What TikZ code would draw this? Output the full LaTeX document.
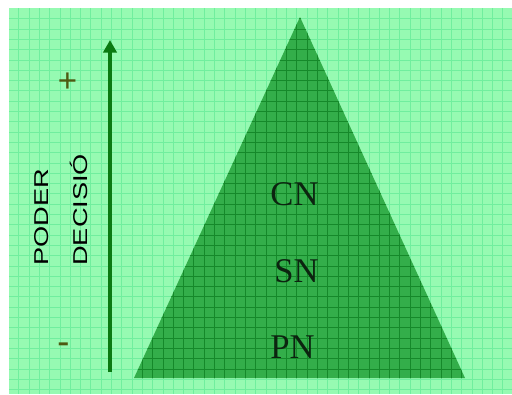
\documentclass[tikz,border=0pt]{standalone}
\usepackage{fontspec}
\setmainfont{Liberation Serif}
\newfontfamily\sansx[FakeStretch=1.36]{Liberation Sans}
\usetikzlibrary{arrows.meta}
\definecolor{bgx}{HTML}{96FAB2}
\definecolor{bglinex}{HTML}{70EE9E}
\definecolor{trix}{HTML}{33AE4A}
\definecolor{trilinex}{HTML}{15892A}
\definecolor{arrowx}{HTML}{0B7A12}
\definecolor{signx}{HTML}{4D5A12}
\definecolor{textx}{HTML}{0C2410}
\tikzset{
  lvl/.style={font=\fontsize{26}{30}\selectfont,textx,inner sep=0pt},
  sg/.style={font=\bfseries\fontsize{26}{30}\selectfont,signx,inner sep=0pt},
  ax/.style={-{Triangle[length=9.5pt,width=10pt]},line width=3pt,arrowx},
  vlab/.style={font=\sansx\fontsize{15}{17}\selectfont,rotate=90,anchor=base west,inner sep=0pt},
  gl/.style={bglinex,line width=1pt},
  tgl/.style={trilinex,line width=0.75pt}
}

\begin{document}
\begin{tikzpicture}[x=0.75pt,y=-0.75pt]
\useasboundingbox (0,0) rectangle (512,394);
% background with grid
\fill[bgx] (9,8) rectangle (512,394);
\foreach \k in {0,...,47}{\pgfmathsetmacro\gx{round(18.3+\k*10.3)+0.5}\draw[gl] (\gx,8) -- (\gx,394);}
\foreach \k in {0,...,36}{\pgfmathsetmacro\gy{round(18.3+\k*10.3)+0.5}\draw[gl] (9,\gy) -- (512,\gy);}
% pyramid
\coordinate (apex) at (300,17);
\coordinate (baseL) at (134,378);
\coordinate (baseR) at (465,378);
\fill[trix] (apex) -- (baseL) -- (baseR) -- cycle;
\begin{scope}
\clip (apex) -- (baseL) -- (baseR) -- cycle;
\foreach \k in {0,...,47}{\pgfmathsetmacro\gx{round(18.3+\k*10.3)+0.5}\draw[tgl] (\gx,8) -- (\gx,394);}
\foreach \k in {0,...,36}{\pgfmathsetmacro\gy{round(18.3+\k*10.3)+0.5}\draw[tgl] (9,\gy) -- (512,\gy);}
\end{scope}
\node[lvl] (cn) at (294.5,194) {CN};
\node[lvl] (sn) at (296.5,271) {SN};
\node[lvl] (pn) at (292.5,347) {PN};
% axis
\coordinate (axlo) at (110,372);
\coordinate (axhi) at (110,40);
\draw[ax] (axlo) -- (axhi);
\node[sg] (plus) at (67.5,83) {+};
\node[sg,anchor=base] (minus) at (63.3,352.5) {-};
\node[vlab] (poder) at (49,266) {PODER};
\node[vlab] (decisio) at (88,266) {DECISIÓ};
\end{tikzpicture}
\end{document}
